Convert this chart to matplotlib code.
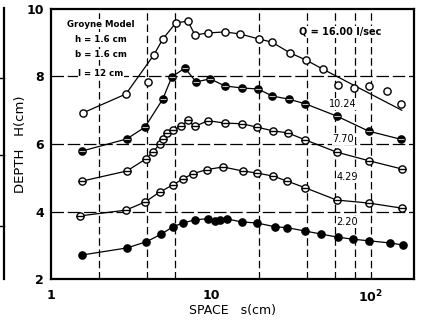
import numpy as np
import matplotlib.pyplot as plt
from matplotlib.ticker import FixedLocator, NullLocator, FixedFormatter

# Q = 16.00 l/sec (open circles)
s_q16 = [1.58, 2.94, 4.04, 4.4, 5.0, 6.04, 7.18, 7.94, 9.6, 12.2, 15.2, 20, 24,
         31.2, 39.2, 50, 62, 78, 97, 126, 154]
h_q16 = [6.92, 7.48, 7.84, 8.64, 9.11, 9.59, 9.64, 9.23, 9.29, 9.32, 9.26, 9.11, 9.02,
         8.70, 8.49, 8.22, 7.75, 7.66, 7.72, 7.57, 7.19]
# drawn curve for Q = 16.00 (does not pass through every point)
s_q16_curve = [1.58, 2.94, 4.4, 5.0, 6.04, 7.18, 7.94, 9.6, 12.2, 15.2, 20, 24,
               31.2, 39.2, 50, 156]
h_q16_curve = [6.92, 7.48, 8.64, 9.11, 9.59, 9.64, 9.23, 9.29, 9.32, 9.26, 9.11, 9.02,
               8.70, 8.49, 8.22, 7.0]

# Q = 10.24
s_q10 = [1.56, 2.98, 3.87, 5.0, 5.7, 6.88, 8.07, 9.9, 12.2, 15.6, 19.7, 24.2, 30.6,
         39, 61, 97, 154]
h_q10 = [5.79, 6.15, 6.50, 7.33, 7.99, 8.25, 7.84, 7.93, 7.72, 7.66, 7.63, 7.42, 7.33,
         7.19, 6.83, 6.38, 6.14]

# Q = 7.70
s_q7 = [1.56, 2.98, 3.93, 4.33, 4.8, 5.0, 5.3, 5.8, 6.5, 7.2, 7.9, 9.6, 12.2, 15.6,
        19.4, 24.4, 30.2, 39, 61, 98, 156]
h_q7 = [4.90, 5.20, 5.56, 5.76, 6.0, 6.15, 6.33, 6.41, 6.53, 6.70, 6.52, 6.69, 6.62,
        6.60, 6.50, 6.39, 6.33, 6.12, 5.76, 5.50, 5.26]

# Q = 4.29
s_q4 = [1.52, 2.94, 3.87, 4.8, 5.8, 6.7, 7.7, 9.4, 11.9, 15.8, 19.4, 24.4, 30, 39,
        61, 97, 156]
h_q4 = [3.87, 4.04, 4.28, 4.58, 4.79, 4.97, 5.12, 5.24, 5.32, 5.20, 5.14, 5.05, 4.90,
        4.70, 4.34, 4.25, 4.10]

# Q = 2.20
s_q2 = [1.56, 2.98, 3.93, 4.9, 5.8, 6.7, 7.9, 9.6, 10.6, 11.4, 12.6, 15.6, 19.4, 25,
        30, 39, 49, 62, 77, 98, 131, 158]
h_q2 = [2.71, 2.92, 3.10, 3.33, 3.55, 3.66, 3.75, 3.79, 3.73, 3.75, 3.78, 3.69, 3.66,
        3.55, 3.52, 3.42, 3.33, 3.24, 3.18, 3.13, 3.07, 3.01]

q_labels = ["Q = 16.00 l/sec", "10.24", "7.70", "4.29", "2.20"]
x_ticks = [1, 10, 100]
x_ticklabels = ["1", "10", "$\\mathbf{10^2}$"]
y_ticks = [2, 4, 6, 8, 10]
x_grid = [2, 4, 6, 20, 40, 60, 80, 100]
y_grid = [4, 6, 8]

fig = plt.figure(figsize=(4.21, 3.23), dpi=100)
ax = fig.add_axes([0.1211, 0.1362, 0.8622, 0.836])
ax.set_xscale("log")
ax.set_xlim(1, 186)
ax.set_ylim(2, 10)

for xv in x_grid:
    ax.axvline(xv, color="black", lw=0.9, ls=(0, (6, 3)), zorder=1)
for yv in y_grid:
    ax.axhline(yv, color="black", lw=0.9, ls=(0, (10, 3)), zorder=1)

ms = 5.2
lw = 0.9

# Q = 16.00
ax.plot(s_q16_curve, h_q16_curve, color="black", lw=lw, zorder=2)
ax.plot(s_q16, h_q16, ls="none", marker="o", ms=ms, mfc="white", mec="black",
        mew=1.0, zorder=3)

# Q = 10.24 (dark with light bar)
ax.plot(s_q10, h_q10, color="black", lw=lw, marker="o", ms=ms, mfc="black",
        mec="black", zorder=3)
ax.plot(s_q10, h_q10, ls="none", marker="_", ms=ms * 0.7, mec="#bbbbbb", mew=0.8,
        zorder=4)

# Q = 7.70 and 4.29 (open with bar)
for s, h in [(s_q7, h_q7), (s_q4, h_q4)]:
    ax.plot(s, h, color="black", lw=lw, marker="o", ms=ms, mfc="white",
            mec="black", mew=1.0, zorder=3)
    ax.plot(s, h, ls="none", marker="_", ms=ms, mec="black", mew=1.0, zorder=4)

# Q = 2.20
ax.plot(s_q2, h_q2, color="black", lw=lw, marker="o", ms=ms, mfc="black",
        mec="black", zorder=3)

box = dict(facecolor="white", edgecolor="none", pad=0.5)
ax.text(64, 9.32, q_labels[0], ha="center", va="center", fontsize=7,
        fontweight="bold", bbox=box, zorder=2.5)
label_pos = [(67, 7.19), (67, 6.15), (71, 5.02), (71, 3.69)]
for t, (xs, ys) in zip(q_labels[1:], label_pos):
    ax.text(xs, ys, t, ha="center", va="center", fontsize=7, bbox=box,
            zorder=2.5)

inset = ["Groyne Model", "h = 1.6 cm", "b = 1.6 cm", "l = 12 cm"]
for i, t in enumerate(inset):
    ax.text(2.05, 9.55 - 0.45 * i - (0.1 if i == 3 else 0), t, ha="center",
            va="center", fontsize=6.2, fontweight="bold", bbox=box, zorder=2.5)

ax.xaxis.set_major_locator(FixedLocator(x_ticks))
ax.xaxis.set_major_formatter(FixedFormatter(x_ticklabels))
ax.xaxis.set_minor_locator(NullLocator())
ax.set_yticks(y_ticks)
ax.tick_params(axis="y", length=0, labelsize=9, pad=5)
ax.tick_params(axis="x", length=0, labelsize=9, pad=7)
for lab in ax.get_xticklabels() + ax.get_yticklabels():
    lab.set_fontweight("bold")

ax.set_xlabel("SPACE   s(cm)", fontsize=9, labelpad=-1)
ax.set_ylabel("DEPTH   H(cm)", fontsize=9.5, labelpad=0)
for sp in ax.spines.values():
    sp.set_linewidth(1.6)

# edge of neighbouring panel at the far left
fig.add_artist(plt.Line2D([0.009, 0.009], [0.135, 0.975], color="black",
                          lw=1.6, transform=fig.transFigure))
for yy in [0.30, 0.52, 0.76]:
    fig.add_artist(plt.Line2D([0.0, 0.009], [yy, yy], color="black", lw=1.0,
                              transform=fig.transFigure))

fig.savefig("out.png", dpi=100)
